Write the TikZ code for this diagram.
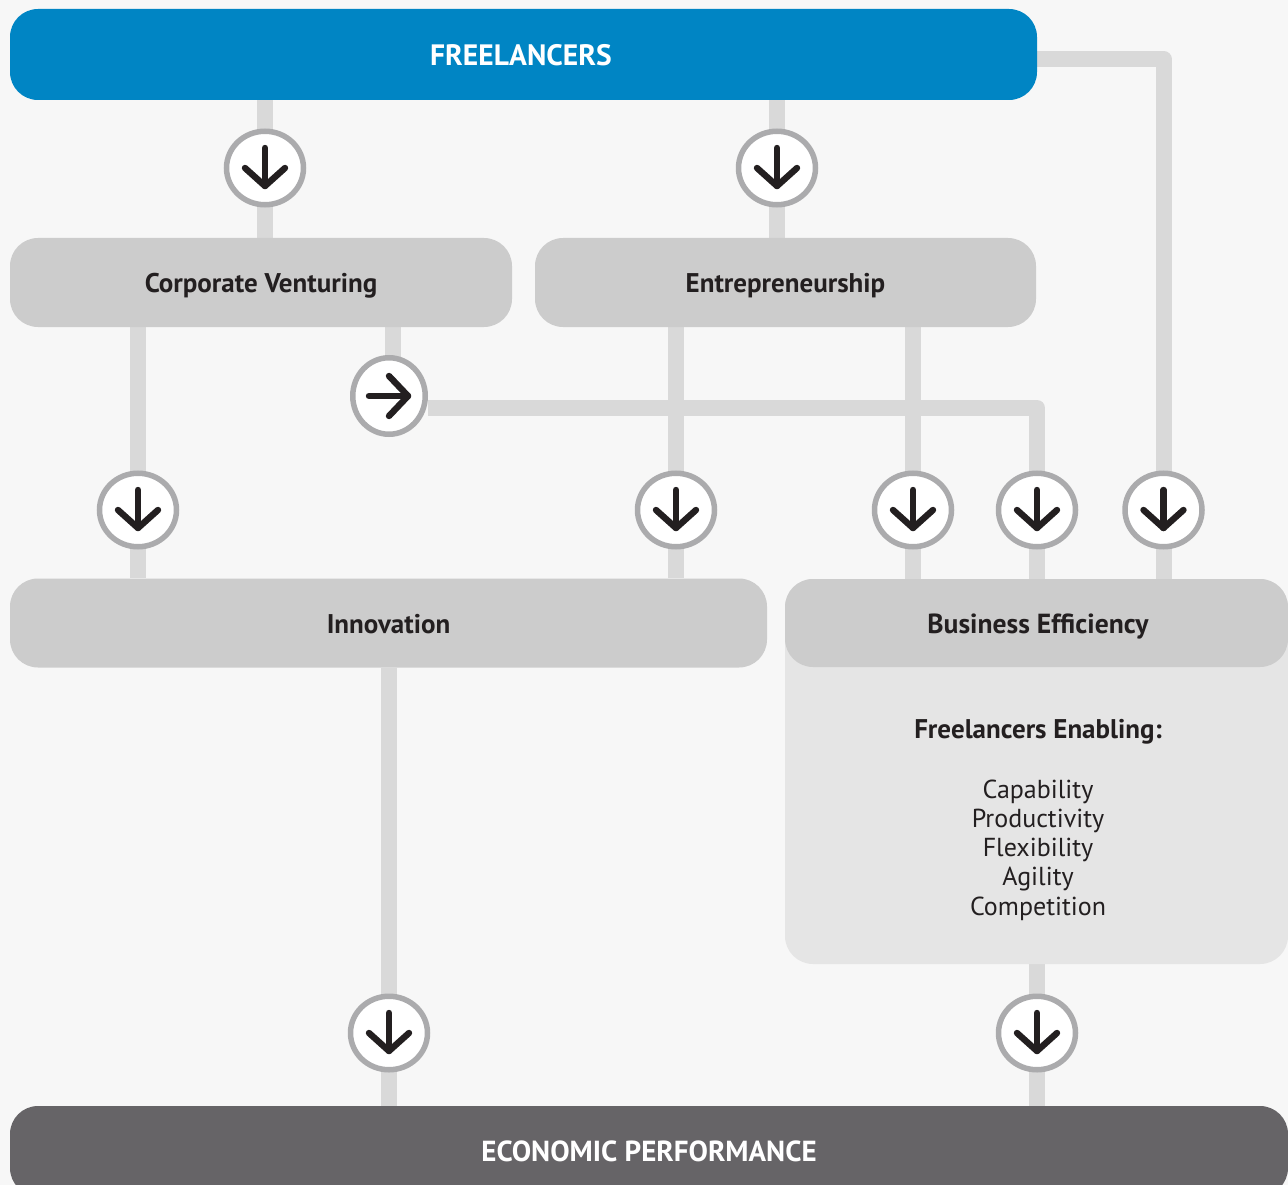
\documentclass[tikz,border=0pt]{standalone}
\usepackage{fontspec}
\setmainfont{PT Sans}
\usetikzlibrary{shapes.geometric,backgrounds}
\definecolor{pagebg}{HTML}{F7F7F7}
\definecolor{flblue}{HTML}{0085C4}
\definecolor{boxgrey}{HTML}{CCCCCC}
\definecolor{panelgrey}{HTML}{E5E5E5}
\definecolor{darkbar}{HTML}{666467}
\definecolor{connector}{HTML}{D9D9D9}
\definecolor{ring}{HTML}{ABABAD}
\definecolor{ink}{HTML}{231F20}
\tikzset{
  box/.style={rectangle,rounded corners=28pt,inner sep=0pt,text=ink,text height=20pt,text depth=0pt,font=\fontsize{27}{30}\selectfont\bfseries},
  conn/.style={draw=connector,line width=16pt,line join=round},
  ringnode/.style={ellipse,draw=ring,fill=white,line width=5.5pt,inner sep=0pt,minimum width=77pt,minimum height=73.5pt},
  ringright/.style={ringnode,minimum width=72.5pt,minimum height=76.5pt},
  plain/.style={inner sep=0pt,text=ink,align=center},
  arrowpen/.style={draw=ink,line width=6.4pt,line cap=round,line join=round},
  downarrow/.pic={\draw[arrowpen] (0,-20)--(0,18); \draw[arrowpen] (-20,0)--(0,18)--(20,0);},
  rightarrow/.pic={\draw[arrowpen] (-20,0)--(19,0); \draw[arrowpen] (0,-20)--(19,0)--(0,20);}
}
\begin{document}
\begin{tikzpicture}[x=1pt,y=-1pt]
\useasboundingbox (0,0) rectangle (1288,1185);
\clip (0,0) rectangle (1288,1185);
% boxes
\node[box,fill=panelgrey,minimum width=503pt,minimum height=385pt] (panel) at (1036.5,771.5) {};
\node[box,fill=flblue,text=white,text height=23pt,minimum width=1027pt,minimum height=91pt,font=\fontsize{29.5}{30}\selectfont\bfseries] (fl) at (523.5,54.5) {\hspace*{-5pt}FREELANCERS};
\node[box,fill=boxgrey,minimum width=502pt,minimum height=89pt] (cv) at (261,282.5) {Corporate Venturing};
\node[box,fill=boxgrey,minimum width=501pt,minimum height=89pt] (en) at (785.5,282.5) {Entrepreneurship};
\node[box,fill=boxgrey,minimum width=757pt,minimum height=89pt] (in) at (388.5,623) {Innovation};
\node[box,fill=boxgrey,minimum width=503pt,minimum height=88pt,font=\fontsize{27.6}{30}\selectfont\bfseries] (be) at (1036.5,623) {\hspace*{3pt}Business Efficiency};
\node[box,fill=darkbar,text=white,minimum width=1278pt,minimum height=90pt,font=\fontsize{29}{30}\selectfont\bfseries] (ep) at (649,1151) {ECONOMIC PERFORMANCE};
\node[plain,font=\fontsize{27}{30}\selectfont\bfseries] (ftitle) at (1038,732) {\strut Freelancers Enabling:};
\node[plain,font=\fontsize{26}{29.3}\selectfont] (flist) at (1038,850) {Capability\\Productivity\\Flexibility\\Agility\\Competition};
% rings
\node[ringnode] (a1) at (265,168) {};
\node[ringnode] (a2) at (777,168) {};
\node[ringright] (a3) at (389,396) {};
\node[ringnode] (a4) at (138,510) {};
\node[ringnode] (a5) at (676,510) {};
\node[ringnode] (a6) at (913,510) {};
\node[ringnode] (a7) at (1037,510) {};
\node[ringnode] (a8) at (1163.5,510) {};
\node[ringnode] (a9) at (389,1033) {};
\node[ringnode] (a10) at (1037,1033) {};
\foreach \n in {a1,a2,a4,a5,a6,a7,a8,a9,a10} \pic at (\n) {downarrow};
\pic at (a3) {rightarrow};
% free ends of connectors
\coordinate (j1) at (393,396);
\coordinate (j2) at (428,408);
\coordinate (j3) at (1030,59);
\begin{scope}[on background layer]
\fill[pagebg] (0,0) rectangle (1288,1185);
\draw[conn] (fl.south -| a1) -- (a1.center) -- (cv.north -| a1);
\draw[conn] (fl.south -| a2) -- (a2.center) -- (en.north -| a2);
\draw[conn] (cv.south -| a4) -- (a4.center) -- (in.north -| a4);
\draw[conn] (cv.south -| j1) -- (j1);
\draw[conn] (en.south -| a5) -- (a5.center) -- (in.north -| a5);
\draw[conn] (en.south -| a6) -- (a6.center) -- (be.north -| a6);
\draw[conn] (j2) -| (a7.center) -- (be.north -| a7);
\draw[conn] (j3) -| (a8.center) -- (be.north -| a8);
\draw[conn] (in.south -| a9) -- (a9.center) -- (ep.north -| a9);
\draw[conn] (panel.south -| a10) -- (a10.center) -- (ep.north -| a10);
\end{scope}
\end{tikzpicture}
\end{document}
